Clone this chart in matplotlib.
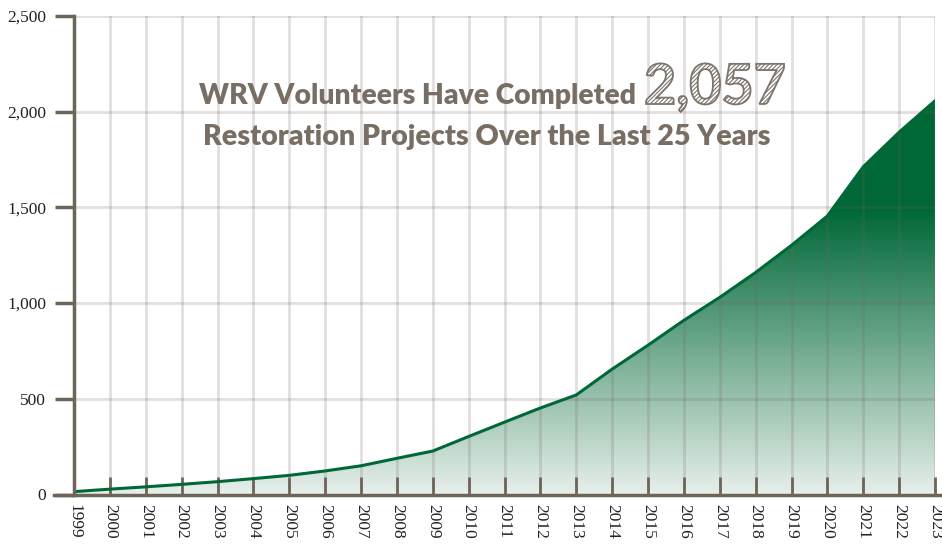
import matplotlib
matplotlib.use("Agg")
import matplotlib.pyplot as plt
import matplotlib.patheffects as pe
import numpy as np
from matplotlib.colors import LinearSegmentedColormap

# data
years = list(range(1999, 2024))
projects = [15, 28, 40, 53, 67, 83, 100, 123, 150, 189, 227, 303, 378, 452,
            520, 655, 780, 910, 1030, 1160, 1302, 1455, 1712, 1893, 2057]
y_ticks = [0, 500, 1000, 1500, 2000, 2500]

green = "#006837"
brown = "#6e6458"
text_col = "#796e63"

plt.rcParams["hatch.linewidth"] = 0.8
plt.rcParams["font.serif"] = ["Liberation Serif", "DejaVu Serif"]

fig = plt.figure(figsize=(9.42, 5.48), dpi=100)
ax = fig.add_axes([74 / 942, 1 - 494.5 / 548, 861 / 942, 478.5 / 548])

# gradient fill under the curve
poly = ax.fill_between(years, projects, 0, facecolor="none", edgecolor="none")
cmap = LinearSegmentedColormap.from_list(
    "g", [(0, "#e6efea"), (0.72, green), (1, green)])
grad = np.linspace(0, 1, 256).reshape(-1, 1)
img = ax.imshow(grad, cmap=cmap, origin="lower", aspect="auto",
                extent=[years[0], years[-1], 0, max(projects)], zorder=0.8)
img.set_clip_path(poly.get_paths()[0], transform=ax.transData)

ax.plot(years, projects, color=green, lw=2.2, zorder=3)

ax.set_xlim(years[0], years[-1])
ax.set_ylim(0, 2500)
ax.set_xticks(years)
ax.set_xticklabels([str(y) for y in years], rotation=270)
ax.set_yticks(y_ticks)
ax.set_yticklabels([f"{v:,}" for v in y_ticks])
ax.tick_params(labelfontfamily="serif", labelsize=12.5, labelcolor="#222222")

ax.set_axisbelow("line")
ax.grid(True, color="#7a5f5f", alpha=0.2, lw=2)

for side in ["top", "right"]:
    ax.spines[side].set_visible(False)
for side in ["left", "bottom"]:
    ax.spines[side].set_color(brown)
    ax.spines[side].set_linewidth(2.5)
    ax.spines[side].set_zorder(4)

ax.tick_params(axis="y", direction="out", length=14, width=2.5, color=brown, pad=6)
ax.tick_params(axis="x", direction="in", length=13, width=2, color=brown, pad=7)
ax.spines["bottom"].set_bounds(years[0] - 0.55, years[-1] + 0.2)
ax.spines["bottom"].set_clip_on(False)

# headline
fig.text(636 / 942, 1 - 104 / 548, "WRV Volunteers Have Completed", ha="right",
         va="baseline", family="Lato", weight="heavy", fontsize=20.3, color=text_col)
fig.text(644 / 942, 1 - 104 / 548, "2,057", ha="left", va="baseline",
         family="Lato", weight="bold", fontsize=40, color="none",
         path_effects=[pe.PathPatchEffect(facecolor="white", edgecolor="#7d746b",
                                          hatch="////////", lw=1.3)])
fig.text(487 / 942, 1 - 145 / 548, "Restoration Projects Over the Last 25 Years",
         ha="center", va="baseline", family="Lato", weight="heavy", fontsize=20.6,
         color=text_col)

fig.savefig("out.png", dpi=100)
